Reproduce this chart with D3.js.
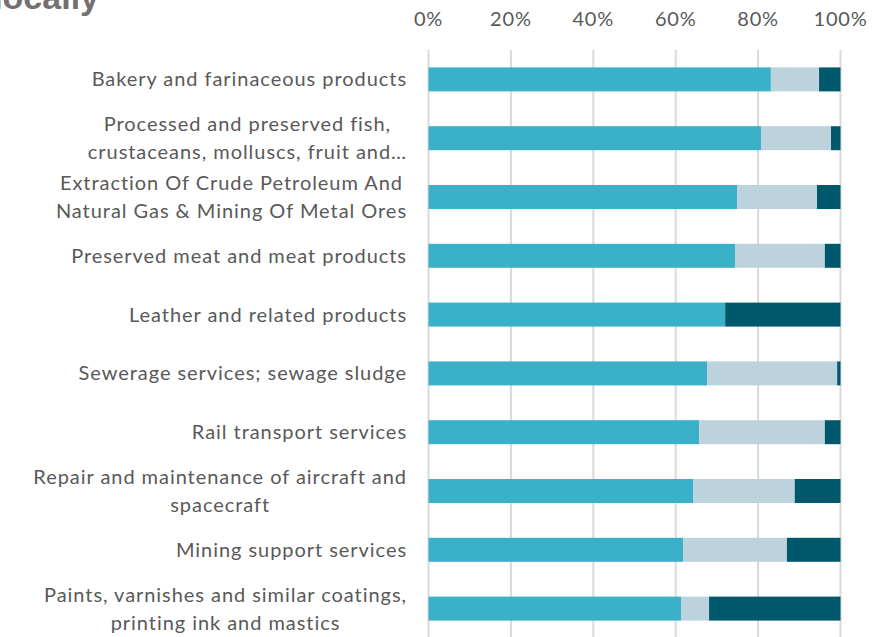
<!DOCTYPE html>
<meta charset="utf-8">
<html>
  <head>
    <title>Stacked shares</title>
    <style>
      body { margin: 0; background: #fff; }
      text.cat { font-family: Lato, "Open Sans", sans-serif; font-size: 20px; letter-spacing: 0.95px; fill: #595959; }
      text.tick { font-family: Lato, "Open Sans", sans-serif; font-size: 20px; letter-spacing: 0.8px; fill: #595959; }
      text.title { font-family: "Liberation Sans", Arial, sans-serif; font-weight: bold; font-size: 34px; fill: #757171; }
    </style>
    <script src="https://cdn.jsdelivr.net/npm/d3@7"></script>
  </head>
  <body>
    <div id="chart"></div>
    <script>
    // categories (each entry is the wrapped lines of the label)
    var categories = [
      ["Bakery and farinaceous products"],
      ["Processed and preserved fish,", "crustaceans, molluscs, fruit and\u2026"],
      ["Extraction Of Crude Petroleum And", "Natural Gas  & Mining Of Metal Ores"],
      ["Preserved meat and meat products"],
      ["Leather and related products"],
      ["Sewerage services; sewage sludge"],
      ["Rail transport services"],
      ["Repair and maintenance of aircraft and", "spacecraft"],
      ["Mining support services"],
      ["Paints, varnishes and similar coatings,", "printing ink and mastics"]
    ];
    // three series, shares (0-1)
    var seriesA = [0.831, 0.807, 0.749, 0.744, 0.720, 0.676, 0.657, 0.642, 0.618, 0.613];
    var seriesB = [0.117, 0.170, 0.194, 0.218, 0.000, 0.316, 0.305, 0.247, 0.252, 0.068];
    var seriesC = [0.052, 0.023, 0.057, 0.038, 0.280, 0.008, 0.038, 0.111, 0.130, 0.319];
    var ticks = [0, 0.2, 0.4, 0.6, 0.8, 1];
    var colors = ["#3bb0c9", "#bcd2dc", "#00586d"];

    var W = 879, H = 637;
    var svg = d3.select("#chart").append("svg")
      .attr("width", W)
      .attr("height", H);

    var x = d3.scaleLinear().domain([0, 1]).range([428.5, 840.5]);
    var y = d3.scaleBand()
      .domain(d3.range(categories.length))
      .range([50, 638])
      .paddingInner(0.592)
      .paddingOuter(0.296);

    // title, cut off at the top left
    svg.append("text")
      .attr("class", "title")
      .attr("x", 99)
      .attr("y", 9)
      .attr("text-anchor", "end")
      .text("locally");

    // gridlines
    svg.selectAll(".grid")
      .data(ticks)
      .enter()
      .append("line")
      .attr("x1", function(d) { return x(d); })
      .attr("x2", function(d) { return x(d); })
      .attr("y1", 50)
      .attr("y2", H)
      .attr("stroke", "#d9d9d9")
      .attr("stroke-width", 2);

    // top axis labels
    svg.selectAll(".tick")
      .data(ticks)
      .enter()
      .append("text")
      .attr("class", "tick")
      .attr("x", function(d) { return x(d); })
      .attr("y", 26)
      .attr("text-anchor", "middle")
      .text(d3.format(".0%"));

    // stack the series
    var rows = categories.map(function(c, i) {
      return { i: i, a: seriesA[i], b: seriesB[i], c: seriesC[i] };
    });
    var stacked = d3.stack().keys(["a", "b", "c"])(rows);

    svg.selectAll(".series")
      .data(stacked)
      .enter()
      .append("g")
      .attr("fill", function(d, k) { return colors[k]; })
      .selectAll("rect")
      .data(function(d) { return d; })
      .enter()
      .append("rect")
      .attr("x", function(d) { return x(d[0]); })
      .attr("width", function(d) { return x(d[1]) - x(d[0]); })
      .attr("y", function(d) { return y(d.data.i); })
      .attr("height", y.bandwidth());

    // category labels: block right-aligned, lines centred in the block
    var lineH = 28;
    categories.forEach(function(lines, i) {
      var g = svg.append("g");
      var cy = y(i) + y.bandwidth() / 2;
      var top = cy - (lines.length - 1) * lineH / 2;
      var texts = lines.map(function(l, j) {
        return g.append("text")
          .attr("class", "cat")
          .attr("y", top + j * lineH + 7)
          .attr("text-anchor", "middle")
          .text(l);
      });
      var maxW = d3.max(texts, function(t) { return t.node().getComputedTextLength(); });
      texts.forEach(function(t) { t.attr("x", 407 - maxW / 2); });
    });
    </script>
  </body>
</html>
